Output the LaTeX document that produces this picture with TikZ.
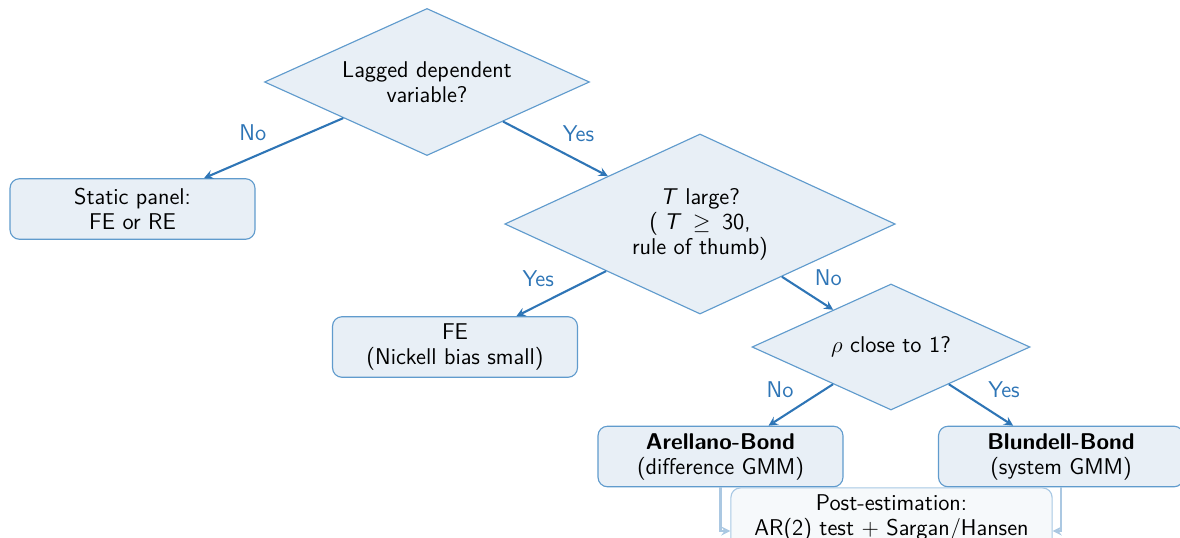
\documentclass[tikz,border=0pt]{standalone}
\usetikzlibrary{shapes.geometric}
\definecolor{boxfill}{RGB}{232,239,246}
\definecolor{boxline}{RGB}{96,155,205}
\definecolor{arrowblue}{RGB}{46,117,182}
\begin{document}
\begin{tikzpicture}[x=0.0185cm, y=-0.0185cm, font=\sffamily\fontsize{12}{13.2}\selectfont,
    decision/.style={diamond, aspect=2.2, draw=boxline, fill=boxfill, align=center, inner sep=0pt, line width=0.6pt},
    outcome/.style={rectangle, rounded corners=5pt, draw=boxline, fill=boxfill, align=center,
        minimum width=4.53cm, minimum height=1.12cm, line width=0.6pt},
    postbox/.style={outcome, fill=boxfill!40, draw=boxline!55},
    flow/.style={draw=arrowblue, line width=1.1pt, -stealth},
    softflow/.style={draw=arrowblue!40, line width=1.1pt, -stealth},
    lbl/.style={text=arrowblue}]
    \useasboundingbox (0,0) rectangle (1180,538);
    % decisions
    \node[decision, minimum width=6.01cm, minimum height=2.72cm] (lag) at (427,82) {Lagged dependent\\variable?};
    \node[decision, minimum width=7.22cm, minimum height=3.33cm] (large) at (700,224)
        {\textit{T} large?\\(\hspace{0.25em}\textit{T}\hspace{0.5em}$\geq$\hspace{0.5em}30,\\rule of thumb)};
    \node[decision, minimum width=5.14cm, minimum height=2.33cm] (rho) at (891,347) {$\rho$ close to 1?};
    % outcomes
    \node[outcome] (static) at (132.5,209) {Static panel:\\FE or RE};
    \node[outcome] (fe) at (455,347) {FE\\(Nickell bias small)};
    \node[outcome] (ab) at (720.5,456.5) {\textbf{Arellano-Bond}\\(difference GMM)};
    \node[outcome] (bb) at (1061,456.5) {\textbf{Blundell-Bond}\\(system GMM)};
    \node[postbox, minimum width=5.94cm, minimum height=1.59cm] (post) at (891.5,531) {Post-estimation:\\AR(2) test $+$ Sargan/Hansen\\\strut};
    % arrows
    \draw[flow] (lag) -- node[lbl, midway, above left] {No} (static);
    \draw[flow] (lag) -- node[lbl, midway, above right] {Yes} (large);
    \draw[flow] (large) -- node[lbl, midway, above left] {Yes} (fe);
    \draw[flow] (large) -- node[lbl, midway, above right] {No} (rho);
    \draw[flow] (rho) -- node[lbl, midway, above left] {No} (ab);
    \draw[flow] (rho) -- node[lbl, midway, above right] {Yes} (bb);
    \draw[softflow] (ab) |- (post);
    \draw[softflow] (bb) |- (post);
\end{tikzpicture}
\end{document}
